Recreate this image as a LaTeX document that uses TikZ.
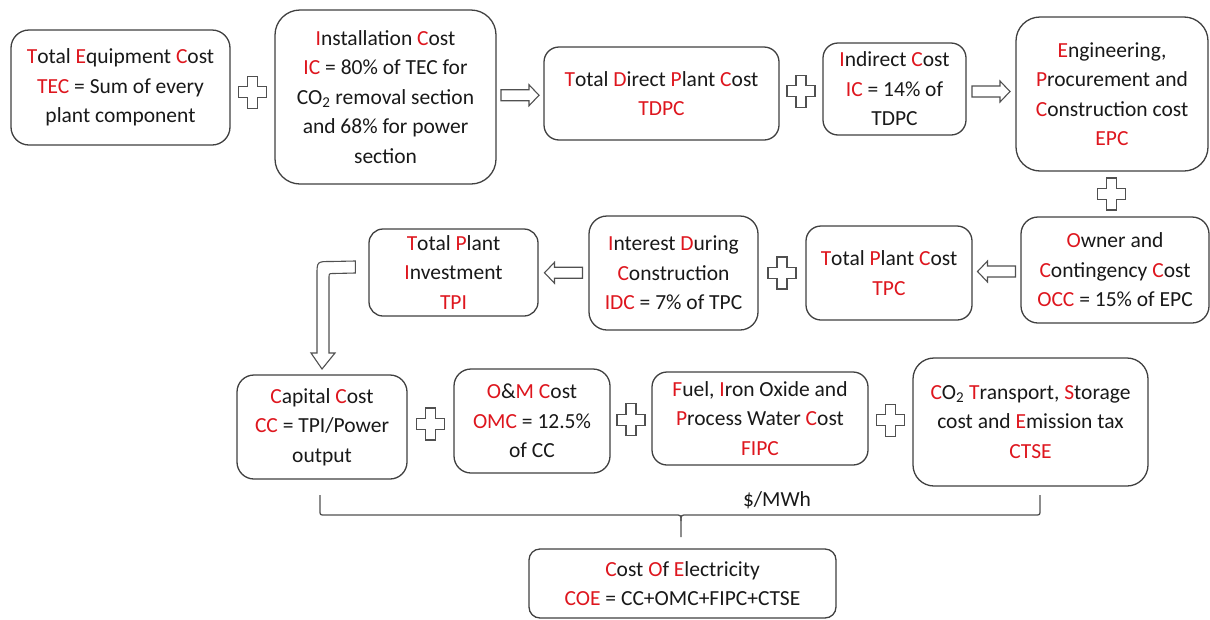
\documentclass[tikz,border=0pt]{standalone}
\usepackage{fontspec}
\setmainfont{Carlito}
\usetikzlibrary{calc}
\definecolor{ired}{RGB}{222,22,30}
\definecolor{itext}{RGB}{25,25,25}
\definecolor{iline}{RGB}{64,64,64}
\definecolor{isym}{RGB}{80,80,80}
\newcommand{\rd}[1]{\textcolor{ired}{#1}}
\begin{document}
\begin{tikzpicture}[x=1pt,y=-1pt,
  box/.style={draw=iline, line width=1.3pt, fill=white, align=center, inner sep=0pt,
    text=itext, font=\fontsize{21.5}{29.5}\selectfont},
  symline/.style={draw=isym, line width=1.1pt, fill=white, line join=miter},
  plussign/.pic={\draw[symline] (-5,-16) -- (5,-16) -- (5,-5.5) -- (14,-5.5) -- (14,5.5) -- (5,5.5) -- (5,16) -- (-5,16) -- (-5,5.5) -- (-14,5.5) -- (-14,-5.5) -- (-5,-5.5) -- cycle;},
  blockarrow/.pic={\draw[symline] (-19,-5.5) -- (9,-5.5) -- (9,-10.5) -- (19,0) -- (9,10.5) -- (9,5.5) -- (-19,5.5) -- cycle;}
]
\useasboundingbox (0,0) rectangle (1210,619);

% Row 1
\node[box, minimum width=219pt, minimum height=115pt, rounded corners=18pt] (tec) at (120.5,87.5)
  {\rd{T}otal \rd{E}quipment \rd{C}ost\\ \rd{TEC} = Sum of every\\ plant component};
\node[box, minimum width=221pt, minimum height=174pt, rounded corners=25pt] (ic) at (385.5,97)
  {\rd{I}nstallation \rd{C}ost\\ \rd{IC} = 80\% of TEC for\\ CO\textsubscript{2} removal section\\ and 68\% for power\\ section};
\node[box, minimum width=235pt, minimum height=93pt, rounded corners=15pt] (tdpc) at (661.5,93.5)
  {\rd{T}otal \rd{D}irect \rd{P}lant \rd{C}ost\\ \rd{TDPC}};
\node[box, minimum width=143pt, minimum height=92pt, rounded corners=15pt] (icb) at (894.5,89)
  {\rd{I}ndirect \rd{C}ost\\ \rd{IC} = 14\% of\\ TDPC};
\node[box, minimum width=192pt, minimum height=154pt, rounded corners=24pt] (epc) at (1112,94)
  {\rd{E}ngineering,\\ \rd{P}rocurement and\\ \rd{C}onstruction cost\\ \rd{EPC}};

% Row 2
\node[box, minimum width=188pt, minimum height=106pt, rounded corners=17pt] (occ) at (1115,270)
  {\rd{O}wner and\\ \rd{C}ontingency \rd{C}ost\\ \rd{OCC} = 15\% of EPC};
\node[box, minimum width=166pt, minimum height=94pt, rounded corners=15pt] (tpc) at (889,273)
  {\rd{T}otal \rd{P}lant \rd{C}ost\\ \rd{TPC}};
\node[box, minimum width=169pt, minimum height=114pt, rounded corners=18pt] (idc) at (673.5,273)
  {\rd{I}nterest \rd{D}uring\\ \rd{C}onstruction\\ \rd{IDC} = 7\% of TPC};
\node[box, minimum width=169pt, minimum height=87pt, rounded corners=14pt] (tpi) at (453.5,272.5)
  {\rd{T}otal \rd{P}lant\\ \rd{I}nvestment\\ \rd{TPI}};

% Row 3
\node[box, minimum width=170pt, minimum height=104pt, rounded corners=17pt] (cc) at (322,427)
  {\rd{C}apital \rd{C}ost\\ \rd{CC} = TPI/Power\\ output};
\node[box, minimum width=156pt, minimum height=104pt, rounded corners=17pt] (omc) at (532,421)
  {\rd{O}\&\rd{M} \rd{C}ost\\ \rd{OMC} = 12.5\%\\ of CC};
\node[box, minimum width=216pt, minimum height=93pt, rounded corners=15pt] (fipc) at (760,418.5)
  {\rd{F}uel, \rd{I}ron Oxide and\\ \rd{P}rocess Water \rd{C}ost\\ \rd{FIPC}};
\node[box, minimum width=235pt, minimum height=128pt, rounded corners=21pt] (ctse) at (1030.5,422)
  {\rd{C}O\textsubscript{2} \rd{T}ransport, \rd{S}torage\\ cost and \rd{E}mission tax\\ \rd{CTSE}};

% Result
\node[box, minimum width=307pt, minimum height=69pt, rounded corners=11pt] (coe) at (682.5,583.5)
  {\rd{C}ost \rd{O}f \rd{E}lectricity\\ \rd{COE} = CC+OMC+FIPC+CTSE};

% Plus signs
\pic at ($(tec.east)!0.5!(ic.west)$ |- 0,85) {plussign};
\pic at ($(tdpc.east)!0.5!(icb.west)$ |- 0,87) {plussign};
\pic at ($(epc.south)!0.5!(occ.north)+(-2,0)$) {plussign};
\pic at ($(idc.east)!0.5!(tpc.west)$ |- 0,269) {plussign};
\pic at ($(cc.east)!0.5!(omc.west)$ |- 0,423) {plussign};
\pic at ($(omc.east)!0.5!(fipc.west)$ |- 0,422) {plussign};
\pic at ($(fipc.east)!0.5!(ctse.west)$ |- 0,422) {plussign};

% Block arrows
\pic at ($(ic.east)!0.5!(tdpc.west)$ |- 0,92) {blockarrow};
\pic at ($(icb.east)!0.5!(epc.west)$ |- 0,88) {blockarrow};
\pic[rotate=180] at ($(tpc.east)!0.5!(occ.west)$ |- 0,269) {blockarrow};
\pic[rotate=180] at ($(tpi.east)!0.5!(idc.west)$ |- 0,269) {blockarrow};

% Bent arrow from TPI down to CC
\coordinate (ba) at ($(tpi.west)+(-13,-5.5)$);
\draw[symline] (ba) ++(0,-6) -- (331,261.5) .. controls (317,261.5) .. (317,275) -- (317,353)
  -- (311,353) -- (cc.north |- 0,369) -- (335,353) -- (329,353) -- (329,278)
  .. controls (329,273.5) .. (333.5,273.5) -- ($(ba)+(0,6)$) -- cycle;

% Brace
\draw[draw=isym, line width=1.3pt, line join=round]
  (320,495) -- (320,510) .. controls (320,515) .. (325,515) -- (675,515)
  .. controls (681,515) .. (681,521) -- (681,537);
\draw[draw=isym, line width=1.3pt]
  (681,521) .. controls (681,515) .. (687,515) -- (1035,515)
  .. controls (1040,515) .. (1040,510) -- (1040,495);
\node[text=itext, font=\fontsize{21.5}{29.5}\selectfont, inner sep=0pt] (unit) at (777,500) {\$/MWh};
\end{tikzpicture}
\end{document}
